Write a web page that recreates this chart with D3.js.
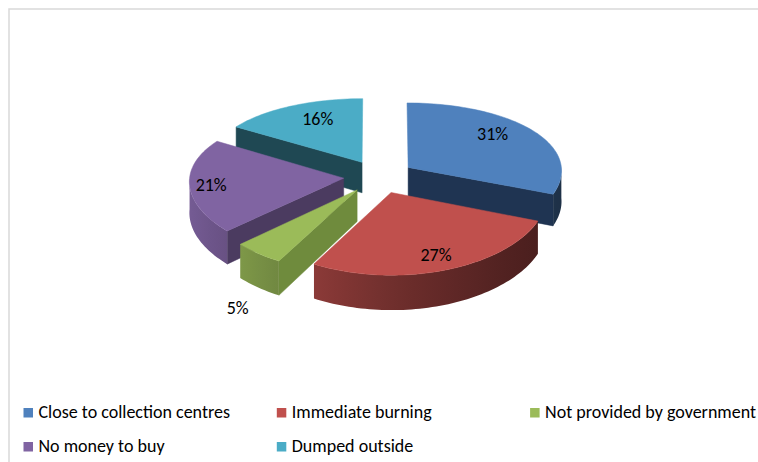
<!DOCTYPE html>
<html>
<head>
<meta charset="utf-8">
<script src="https://cdn.jsdelivr.net/npm/d3@7"></script>
<style>
  html, body { margin: 0; padding: 0; background: #ffffff; }
  svg { display: block; }
  text { font-family: Carlito, Calibri, Lato, "Open Sans", sans-serif; fill: #000; }
</style>
</head>
<body>
<svg id="chart" width="758" height="462"></svg>
<script>
// Reasons given for the disposal practice (percent of respondents)
const categories = [
  "Close to collection centres",
  "Immediate burning",
  "Not provided by government",
  "No money to buy",
  "Dumped outside"
];
const shares = [31, 27, 5, 21, 16];
const percentLabel = d => d + "%";

// Slice styling: lit top face and the darker radial cut face
const topColors = ["#4F81BD", "#C0504D", "#9BBB59", "#8064A2", "#4BACC6"];
const cutColors = ["#1F3452", "#5A2220", "#6F8B3D", "#4B3B60", "#1F4853"];
// How far out along its mid-angle each percentage sits (1 = rim)
const labelReach = [0.68, 0.82, 1.2, 0.86, 0.62];

const W = 758, H = 462;
const svg = d3.select("#chart");
const defs = svg.append("defs");

// Chart area frame (top and left edges)
svg.append("path")
  .attr("d", `M9,${H} V9 H${W}`)
  .attr("fill", "none")
  .attr("stroke", "#d9d9d9")
  .attr("stroke-width", 1.5);

// Tilted pie seen in perspective: u to the right, v toward the viewer,
// z down through the thickness of the disc (0 = top face, 1 = bottom)
const view = {
  cx: 379, cy: 176.6, sx: 154, sy: 72, depth: 31,
  perspX: 0.04, perspY: 0.092, explode: 0.23
};

function project(u, v, z) {
  const wx = 1 - view.perspX * v;
  const wy = 1 - view.perspY * v;
  return [view.cx + view.sx * u / wx, view.cy + (view.sy * v + view.depth * z) / wy];
}

const arcs = d3.pie().sort(null).value(d => d)(shares);
const slices = arcs.map((a, i) => {
  const mid = (a.startAngle + a.endAngle) / 2;
  return {
    ...a, i, mid,
    ou: view.explode * Math.sin(mid),
    ov: -view.explode * Math.cos(mid)
  };
});

function pt(s, theta, r, z) {
  return project(s.ou + r * Math.sin(theta), s.ov - r * Math.cos(theta), z);
}
function rim(s, a0, a1, z) {
  const steps = Math.max(2, Math.ceil(Math.abs(a1 - a0) / (Math.PI / 120)));
  return d3.range(steps + 1).map(j => pt(s, a0 + (a1 - a0) * j / steps, 1, z));
}

const line = d3.line();
const closed = p => line(p) + "Z";

const pieLayer = svg.append("g").attr("class", "pie");

// Paint from the back of the scene to the front
const order = slices.slice().sort((a, b) => a.ov - b.ov);

order.forEach(s => {
  const g = pieLayer.append("g").attr("class", "slice");
  const a0 = s.startAngle, a1 = s.endAngle;

  // Radial cut faces that turn toward the viewer
  [[a0, Math.sin(a0) < -1e-6], [a1, Math.sin(a1) > 1e-6]].forEach(([a, show]) => {
    if (!show) return;
    g.append("path")
      .attr("d", closed([pt(s, a, 0, 0), pt(s, a, 1, 0), pt(s, a, 1, 1), pt(s, a, 0, 1)]))
      .attr("fill", cutColors[s.i])
      .attr("stroke", cutColors[s.i])
      .attr("stroke-width", 0.5);
  });

  // Curved outer wall on the front half, shaded by how it faces the light
  const lo = Math.max(a0, Math.PI / 2), hi = Math.min(a1, 3 * Math.PI / 2);
  if (hi > lo) {
    const top = rim(s, lo, hi, 0);
    const bottom = rim(s, lo, hi, 1).reverse();
    const xs = top.map(p => p[0]);
    const x0 = d3.min(xs), x1 = d3.max(xs);
    const gid = "wall" + s.i;
    const grad = defs.append("linearGradient")
      .attr("id", gid)
      .attr("gradientUnits", "userSpaceOnUse")
      .attr("x1", x0).attr("x2", x1).attr("y1", 0).attr("y2", 0);
    const base = d3.color(topColors[s.i]);
    const stops = d3.range(9).map(j => {
      const th = lo + (hi - lo) * j / 8;
      const x = pt(s, th, 1, 0)[0];
      return { off: x1 > x0 ? (x - x0) / (x1 - x0) : 0, col: base.darker(1.5 + 1.25 * Math.sin(th)).formatHex() };
    }).sort((p, q) => p.off - q.off);
    grad.selectAll("stop").data(stops).join("stop")
      .attr("offset", d => d.off)
      .attr("stop-color", d => d.col);
    g.append("path")
      .attr("d", closed(top.concat(bottom)))
      .attr("fill", `url(#${gid})`);
  }

  // Top face
  g.append("path")
    .attr("d", closed([pt(s, 0, 0, 0)].concat(rim(s, a0, a1, 0))))
    .attr("fill", topColors[s.i])
    .attr("stroke", topColors[s.i])
    .attr("stroke-width", 0.5);
});

// Percentage labels: inside labels on the far half sit a little higher,
// an outside label hangs just below the slice's lower rim
const labelLayer = svg.append("g").attr("class", "labels");
slices.forEach(s => {
  const r = labelReach[s.i];
  const outside = r > 1;
  const p = pt(s, s.mid, r, outside ? 1 : 0);
  const shift = outside ? 6 : (Math.cos(s.mid) > 0 ? -7.5 : 0);
  labelLayer.append("text")
    .attr("x", p[0])
    .attr("y", p[1] + shift)
    .attr("dy", "0.36em")
    .attr("text-anchor", "middle")
    .style("font-size", "18px")
    .text(percentLabel(shares[s.i]));
});

// Legend: three columns, two rows under the plot
const legend = svg.append("g").attr("class", "legend")
  .attr("transform", "translate(23.5,408)");
const colStep = 253.3, rowStep = 34;
const items = legend.selectAll("g").data(categories).join("g")
  .attr("transform", (d, i) => `translate(${(i % 3) * colStep},${Math.floor(i / 3) * rowStep})`);
items.append("rect")
  .attr("width", 9.5).attr("height", 9.5)
  .attr("fill", (d, i) => topColors[i]);
items.append("text")
  .attr("x", 15)
  .attr("y", 9.8)
  .style("font-size", "18px")
  .text(d => d);
</script>
</body>
</html>
